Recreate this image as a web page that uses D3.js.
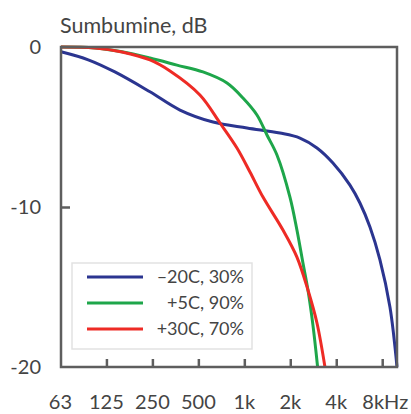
<!DOCTYPE html>
<html>
<head>
<meta charset="utf-8">
<script src="https://cdn.jsdelivr.net/npm/d3@7"></script>
<style>
  body { margin: 0; background: #fff; }
  text { font-family: Lato, "Open Sans", sans-serif; fill: #444; }
</style>
</head>
<body>
<svg id="chart" width="411" height="414"></svg>
<script>
"use strict"

// frequency (Hz) / attenuation (dB)
const coldFreq = [63, 95, 142, 241, 379, 624, 1041, 1712, 2314, 2991, 3806, 4919, 5718, 6651, 7732, 8991, 10000]
const coldDb   = [-0.3, -0.8, -1.56, -2.8, -3.94, -4.69, -5.06, -5.38, -5.69, -6.31, -7.25, -8.63, -9.75, -11.25, -13.3, -16.25, -20]

const mildFreq = [63, 105, 158, 241, 362, 536, 770, 980, 1210, 1407, 1636, 1990, 2211, 2421, 2611, 2816, 3020]
const mildDb   = [0, -0.06, -0.3, -0.69, -1.13, -1.56, -2.25, -3.19, -4.25, -5.5, -6.75, -9.38, -11.44, -13.5, -15.19, -17.4, -20]

const hotFreq = [63, 105, 158, 241, 326, 512, 693, 895, 1089, 1325, 1791, 2211, 2611, 2991, 3374]
const hotDb   = [0, -0.06, -0.31, -0.81, -1.5, -3.0, -4.75, -6.31, -7.81, -9.38, -11.44, -13.13, -15.19, -17.25, -20]

const seriesNames  = ["\u201320C, 30%", "+5C, 90%", "+30C, 70%"]
const seriesColors = ["#2b3590", "#1ea64a", "#ee2b25"]

const xTickValues = [63, 125, 250, 500, 1000, 2000, 4000, 8000]
const xTickLabels = ["63", "125", "250", "500", "1k", "2k", "4k", "8kHz"]
const yTickValues = [0, -10, -20]

const margin = {left: 61, right: 14, top: 47, bottom: 47}
const width = 411 - margin.left - margin.right
const height = 414 - margin.top - margin.bottom

const svg = d3.select("#chart")
const g = svg.append("g").attr("transform", "translate(" + margin.left + "," + margin.top + ")")

const x = d3.scaleLog().base(2).domain([63, 10000]).range([0, width])
const y = d3.scaleLinear().domain([0, -20]).range([0, height])

// title
svg.append("text")
    .attr("x", 60).attr("y", 33)
    .style("font-size", "21.5px")
    .text("Sumbumine, dB")

// curves
const series = [
    coldFreq.map((f, i) => [f, coldDb[i]]),
    mildFreq.map((f, i) => [f, mildDb[i]]),
    hotFreq.map((f, i) => [f, hotDb[i]])
]
const line = d3.line()
    .x(d => x(d[0]))
    .y(d => y(d[1]))
    .curve(d3.curveCatmullRom.alpha(0.5))

g.selectAll(".curve")
    .data(series)
    .enter()
    .append("path")
    .attr("class", "curve")
    .attr("d", line)
    .attr("fill", "none")
    .attr("stroke", (d, i) => seriesColors[i])
    .attr("stroke-width", 3)

// frame
g.append("rect")
    .attr("width", width).attr("height", height)
    .attr("fill", "none")
    .attr("stroke", "#5e5e5e")
    .attr("stroke-width", 2.5)

// x axis: inner ticks, labels below
const xAxis = g.append("g")
    .attr("transform", "translate(0," + height + ")")
    .call(d3.axisBottom(x).tickValues(xTickValues.slice(1)).tickSize(-8).tickFormat(""))
xAxis.select(".domain").remove()
xAxis.selectAll(".tick line").attr("stroke", "#5e5e5e").attr("stroke-width", 2.5)

g.selectAll(".xlab")
    .data(xTickValues)
    .enter()
    .append("text")
    .attr("class", "xlab")
    .attr("x", d => x(d))
    .attr("y", height + 42)
    .attr("text-anchor", (d, i) => i === 0 ? "end" : (i === xTickValues.length - 1 ? "end" : "middle"))
    .attr("dx", (d, i) => i === 0 ? 11 : (i === xTickValues.length - 1 ? 26 : 0))
    .style("font-size", "20px")
    .text((d, i) => xTickLabels[i])

// y axis
const yAxis = g.append("g")
    .call(d3.axisLeft(y).tickValues([-10]).tickSize(-9).tickFormat(""))
yAxis.select(".domain").remove()
yAxis.selectAll(".tick line").attr("stroke", "#5e5e5e").attr("stroke-width", 2.5)

g.selectAll(".ylab")
    .data(yTickValues)
    .enter()
    .append("text")
    .attr("class", "ylab")
    .attr("x", -20)
    .attr("y", d => y(d))
    .attr("dy", "0.36em")
    .attr("text-anchor", "end")
    .style("font-size", "20px")
    .text(d => d)

// legend
const legend = svg.append("g")
legend.append("rect")
    .attr("x", 72).attr("y", 263)
    .attr("width", 180).attr("height", 86)
    .attr("fill", "#fff")
    .attr("stroke", "#e2e2e2")
    .attr("stroke-width", 1.5)

const rows = legend.selectAll(".row")
    .data(seriesNames)
    .enter()
    .append("g")
    .attr("class", "row")
    .attr("transform", (d, i) => "translate(0," + (277 + i * 26) + ")")
rows.append("line")
    .attr("x1", 87).attr("x2", 143)
    .attr("stroke", (d, i) => seriesColors[i])
    .attr("stroke-width", 3)
rows.append("text")
    .attr("x", 244)
    .attr("dy", "0.36em")
    .attr("text-anchor", "end")
    .style("font-size", "18px")
    .text(d => d)
</script>
</body>
</html>
